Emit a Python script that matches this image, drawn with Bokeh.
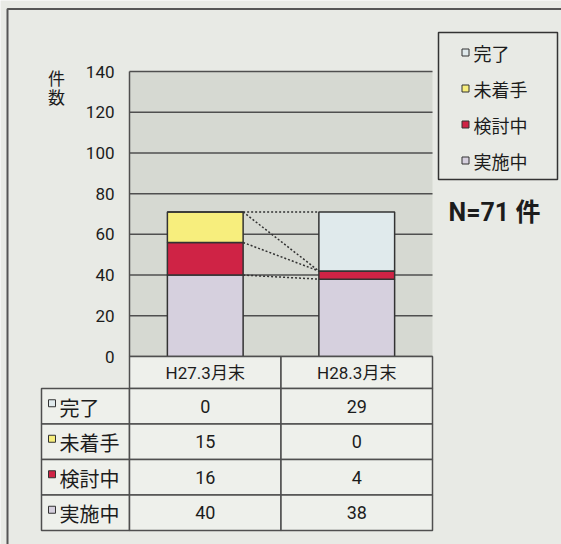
from bokeh.plotting import figure
from bokeh.models import Range1d, ColumnDataSource
from bokeh.core.properties import value
from bokeh.embed import file_html
from bokeh.resources import INLINE

# ---------------- data ----------------
periods = ["H27.3月末", "H28.3月末"]
stack_order = ["実施中", "検討中", "未着手", "完了"]   # bottom -> top
jisshichu = [40, 38]
kentouchu = [16, 4]
michakushu = [15, 0]
kanryo = [0, 29]
y_ticks = [0, 20, 40, 60, 80, 100, 120, 140]
y_title = ["件", "数"]
total_text = "N=71 件"

# ---------------- style ----------------
PAGE = "#e8eae5"
PLOT_BG = "#d6d9d2"
CELL = "#eef0eb"
INK = "#1c1c1c"
LINE = "#4f4f4f"
DARK = "#333333"
colors = ["#d6d0de", "#cf2345", "#f7ee7d", "#e0eaec"]
NUM = "Roboto, Noto Sans CJK JP"
JP = "Noto Sans CJK JP"

W, H = 561, 544
X0, PX_X = 129.0, 151.5          # pixel of category edge 0, pixels per category
Y0, PX_Y = 356.0, 285.0 / 140.0  # pixel of count 0, pixels per count


def dx(px):
    return (px - X0) / PX_X


def dy(py):
    return (Y0 - py) / PX_Y


p = figure(width=W, height=H, x_range=Range1d(dx(0), dx(W)), y_range=Range1d(dy(H), dy(0)),
           output_backend="svg", toolbar_location=None, min_border=0,
           x_axis_location=None, y_axis_location=None,
           background_fill_color=PAGE, border_fill_color=PAGE, outline_line_color=None)
p.grid.visible = False

ncat = len(periods)
xs = [i + 0.5 for i in range(ncat)]
ymax = y_ticks[-1]

# outer page frame (left / top rule of the scanned box)
p.line(x=[dx(7), dx(7), dx(W + 10)], y=[dy(H + 10), dy(8.5), dy(8.5)], line_color="#555555", line_width=2)

# plot area
p.quad(left=[0], right=[ncat], bottom=[0], top=[ymax], fill_color=PLOT_BG, line_color=None)
p.segment(x0=[0] * len(y_ticks), x1=[ncat] * len(y_ticks), y0=y_ticks, y1=y_ticks,
          line_color=LINE, line_width=1.5)
p.segment(x0=[0], x1=[0], y0=[0], y1=[ymax], line_color=LINE, line_width=1.5)
p.text(x=[dx(114)] * len(y_ticks), y=y_ticks, text=[str(t) for t in y_ticks],
       text_font=value(NUM), text_font_size="17px", text_color=INK,
       text_align="right", text_baseline="middle")
p.text(x=[dx(56)] * len(y_title), y=[dy(77), dy(96)], text=y_title,
       text_font=value(JP), text_font_size="17px", text_color=INK,
       text_align="center", text_baseline="middle")

# stacked bars
series = {"実施中": jisshichu, "検討中": kentouchu, "未着手": michakushu, "完了": kanryo}
src = ColumnDataSource(dict(x=xs, **series))
p.vbar_stack(stack_order, x="x", width=0.5, source=src,
             fill_color=colors, line_color=DARK, line_width=1.5)

# dotted connectors between stacked tops
cum = []
for k in range(len(stack_order)):
    cum.append([sum(series[s][i] for s in stack_order[:k + 1]) for i in range(ncat)])
p.multi_line(xs=[[xs[0] + 0.25, xs[1] - 0.25] for _ in cum], ys=[[c[0], c[1]] for c in cum],
             line_color=DARK, line_width=1.5, line_dash="2 2")

# ---------------- data table ----------------
row_names = stack_order[::-1]
row_colors = colors[::-1]
n = len(row_names)
head_bot = dy(388)
row_h = 35.5 / PX_Y
row_top = [head_bot - i * row_h for i in range(n)]
row_bot = [t - row_h for t in row_top]
lab_left = dx(41)

# header row
p.quad(left=list(range(ncat)), right=[j + 1 for j in range(ncat)], top=[0] * ncat,
       bottom=[head_bot] * ncat, fill_color=CELL, line_color=LINE, line_width=1.5)
p.text(x=xs, y=[head_bot / 2] * ncat, text=periods, text_font=value(NUM), text_font_size="17px",
       text_color=INK, text_align="center", text_baseline="middle")

# row label cells
p.quad(left=[lab_left] * n, right=[0] * n, top=row_top, bottom=row_bot,
       fill_color=CELL, line_color=LINE, line_width=1.5)
ql, qr, qt, qb, tx, ty, tt = [], [], [], [], [], [], []
for i, name in enumerate(row_names):
    for j in range(ncat):
        ql.append(j); qr.append(j + 1); qt.append(row_top[i]); qb.append(row_bot[i])
        tx.append(j + 0.5); ty.append((row_top[i] + row_bot[i]) / 2); tt.append(str(series[name][j]))
p.quad(left=ql, right=qr, top=qt, bottom=qb, fill_color=CELL, line_color=LINE, line_width=1.5)
p.text(x=tx, y=ty, text=tt, text_font=value(NUM), text_font_size="18px", text_color=INK,
       text_align="center", text_baseline="middle")
row_mid = [(a + b) / 2 for a, b in zip(row_top, row_bot)]
p.scatter(x=[dx(51.5)] * n, y=[m + 3 / PX_Y for m in row_mid], marker="square", size=7,
          fill_color=row_colors, line_color=DARK, line_width=1)
p.text(x=[dx(59)] * n, y=[m - 1 / PX_Y for m in row_mid], text=row_names,
       text_font=value(JP), text_font_size="20px", text_color=INK,
       text_align="left", text_baseline="middle")

# ---------------- legend (drawn box) ----------------
p.quad(left=[dx(438)], right=[dx(557)], top=[dy(32)], bottom=[dy(179)],
       fill_color=PAGE, line_color=DARK, line_width=1.5)
leg_y = [dy(52 + 36 * i) for i in range(n)]
p.scatter(x=[dx(465)] * n, y=leg_y, marker="square", size=7,
          fill_color=row_colors, line_color=DARK, line_width=1)
p.text(x=[dx(473)] * n, y=leg_y, text=row_names, text_font=value(JP), text_font_size="18px",
       text_color=INK, text_align="left", text_baseline="middle")

p.text(x=[dx(448)], y=[dy(212)], text=[total_text], text_font=value(NUM), text_font_style="bold",
       text_font_size="25px", text_color=INK, text_align="left", text_baseline="middle")

open("out.html", "w").write(file_html(p, INLINE))
